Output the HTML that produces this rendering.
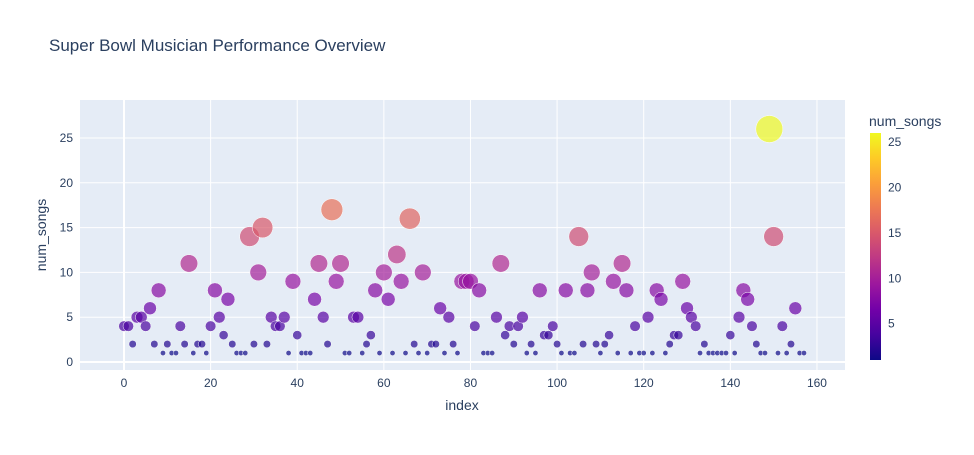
<!DOCTYPE html>
<html><head><meta charset="utf-8"><style>
body{margin:0;background:#fff;font-family:"Liberation Sans",Arial,sans-serif;}
svg text{font-family:"Liberation Sans",Arial,sans-serif;fill:#2a3f5f;}
</style></head><body>
<svg id="chart" width="974" height="450">
<defs><linearGradient id="plasma" x1="0" y1="1" x2="0" y2="0"></linearGradient></defs>
<text x="49" y="51" font-size="17">Super Bowl Musician Performance Overview</text>
<rect x="80" y="100" width="765" height="270" fill="#e5ecf6"/>
<g id="grid"></g><g id="marks"></g><g id="axes"></g>
<text x="462" y="410" font-size="14" text-anchor="middle">index</text>
<text transform="translate(46,235) rotate(-90)" font-size="14" text-anchor="middle">num_songs</text>
<text x="869" y="126" font-size="14">num_songs</text>
<rect x="870" y="133" width="11" height="227" fill="url(#plasma)"/>
<g id="cbticks"></g>
</svg>
<script>
const songs=[4,4,2,5,5,4,6,2,8,1,2,1,1,4,2,11,1,2,2,1,4,8,5,3,7,2,1,1,1,14,2,10,15,2,5,4,4,5,1,9,3,1,1,1,7,11,5,2,17,9,11,1,1,5,5,1,2,3,8,1,10,7,1,12,9,1,16,2,1,10,1,2,2,6,1,5,2,1,9,9,9,4,8,1,1,1,5,11,3,4,2,4,5,1,2,1,8,3,3,4,2,1,8,1,1,14,2,8,10,2,1,2,3,9,1,11,8,1,4,1,1,5,1,8,7,1,2,3,3,9,6,5,4,1,2,1,1,1,1,1,3,1,5,8,7,4,2,1,1,26,14,1,4,1,2,6,1,1];
const xTicks=[0,20,40,60,80,100,120,140,160];
const yTicks=[0,5,10,15,20,25];
const cbTicks=[5,10,15,20,25];
const NS="http://www.w3.org/2000/svg";
const X=v=>124+v*4.331, Y=v=>362-v*8.96;
const stops=["#0d0887","#46039f","#7201a8","#9c179e","#bd3786","#d8576b","#ed7953","#fb9f3a","#fdca26","#f0f921"];
const cmin=1,cmax=26;
function hex(h){return [1,3,5].map(i=>parseInt(h.substr(i,2),16));}
function color(v){let t=(v-cmin)/(cmax-cmin)*(stops.length-1);let i=Math.min(Math.floor(t),stops.length-2);let f=t-i;let a=hex(stops[i]),b=hex(stops[i+1]);return "rgb("+a.map((c,k)=>Math.round(c+(b[k]-c)*f)).join(",")+")";}
function mk(tag,at,parent){const e=document.createElementNS(NS,tag);for(const k in at)e.setAttribute(k,at[k]);parent.appendChild(e);return e;}
const grid=document.getElementById('grid'),axes=document.getElementById('axes'),marks=document.getElementById('marks');
xTicks.forEach(t=>{const l=mk('line',{x1:X(t),x2:X(t),y1:100,y2:370,stroke:'#fff','stroke-width':t===0?2:1},grid);


const tx=mk('text',{x:X(t),y:387,'font-size':12,'text-anchor':'middle'},axes);tx.textContent=t;

});
yTicks.forEach(t=>{const l=mk('line',{x1:80,x2:845,y1:Y(t),y2:Y(t),stroke:'#fff','stroke-width':t===0?2:1},grid);


const tx=mk('text',{x:73,y:Y(t)+4,'font-size':12,'text-anchor':'end'},axes);tx.textContent=t;

});
songs.forEach((v,i)=>{const c=mk('circle',{cx:X(i),cy:Y(v),r:13.5*Math.sqrt(v/cmax),fill:color(v),'fill-opacity':0.7,stroke:'#fff','stroke-width':0.5},marks);

});
const g=document.getElementById('plasma');
stops.forEach((s,i)=>mk('stop',{offset:(i/(stops.length-1)*100)+'%','stop-color':s},g));
const cb=document.getElementById('cbticks');
cbTicks.forEach(t=>{const y=360-(t-cmin)/(cmax-cmin)*227;
const tx=mk('text',{x:888,y:y+4,'font-size':12},cb);tx.textContent=t;

});
</script>
</body></html>
